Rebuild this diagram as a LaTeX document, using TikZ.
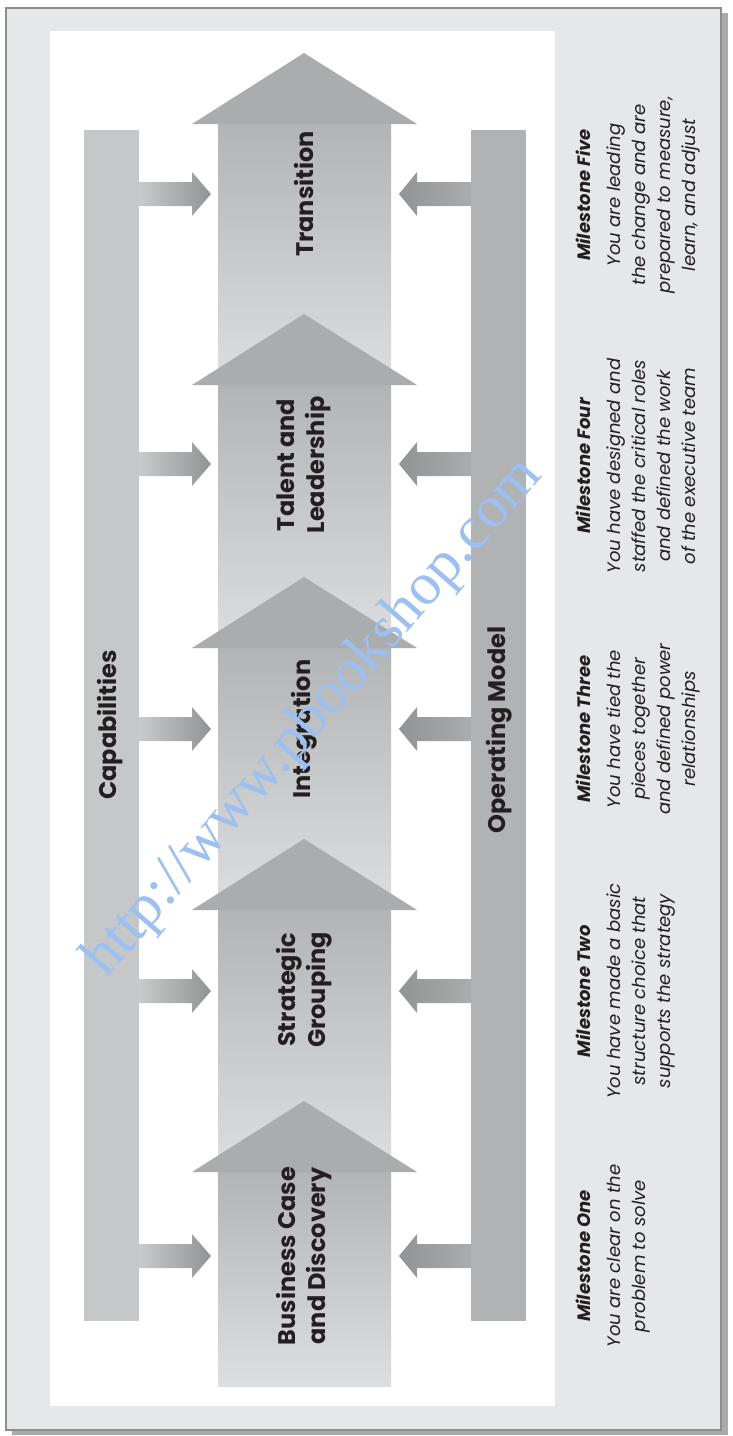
\documentclass[tikz,border=0pt]{standalone}
\usepackage{fontspec}
\setmainfont{Poppins}
\newfontfamily\wmfont{Liberation Serif}
\definecolor{framefill}{HTML}{E6E7E8}
\definecolor{frameline}{HTML}{8C8D8F}
\definecolor{shadowc}{HTML}{A9AAAC}
\definecolor{capbar}{HTML}{C6C7C9}
\definecolor{opbar}{HTML}{B1B2B4}
\definecolor{headc}{HTML}{ABACAE}
\definecolor{shafttop}{HTML}{B3B4B6}
\definecolor{shaftbot}{HTML}{DDDEE0}
\definecolor{smalldark}{HTML}{929395}
\definecolor{smalllight}{HTML}{C9CACC}
\definecolor{txt}{HTML}{231F20}
\definecolor{wmcol}{HTML}{9CC0F0}
\newcommand\BigArrow[3]{% tip y, shaft bottom y, name
  \shade[top color=shafttop, bottom color=shaftbot] (218,#1+71) rectangle (391,#2);
  \fill[headc] (192,#1+71) -- (304,#1) coordinate (#3) -- (417,#1+71) -- cycle;
}
\newcommand\SideArrows[1]{% centre y
  \shade[left color=smalllight, right color=smalldark]
    (139,#1-12) -- (192,#1-12) -- (192,#1-22) -- (211,#1) -- (192,#1+22) -- (192,#1+12) -- (139,#1+12) -- cycle;
  \shade[left color=smalldark, right color=smalllight!85!black]
    (471,#1-12) -- (417,#1-12) -- (417,#1-22) -- (399,#1) -- (417,#1+22) -- (417,#1+12) -- (471,#1+12) -- cycle;
}
\tikzset{
  lbl/.style={rotate=90, align=center, inner sep=0pt, text=txt,
    font=\fontsize{24}{30}\selectfont\bfseries},
  mstone/.style={rotate=90, anchor=north, align=center, inner sep=0pt, text=txt,
    font=\fontsize{18}{25}\selectfont\itshape},
  wmark/.style={rotate=49, inner sep=0pt, text=wmcol,
    font=\wmfont\fontsize{60}{62}\selectfont}
}
\begin{document}
\begin{tikzpicture}[x=1pt,y=-1pt]
\useasboundingbox (0,0) rectangle (733,1436);
\fill[white] (0,0) rectangle (733,1436);
% frame with shadow
\fill[shadowc] (12,13) rectangle (728,1435);
\fill[framefill, draw=frameline, line width=1.2pt] (6,8) rectangle (721,1430);
% white panel
\fill[white] (50,31) rectangle (555,1406);
% bars
\fill[capbar] (84,130) rectangle (139,1321);
\fill[opbar] (471,130) rectangle (526,1321);
\node[lbl] (cap) at (110,725) {Capabilities};
\node[lbl] (op) at (499,730) {Operating Model};
% big arrows
\BigArrow{53}{385}{a5}
\BigArrow{314}{648}{a4}
\BigArrow{577}{909}{a3}
\BigArrow{839}{1172}{a2}
\BigArrow{1101}{1386}{a1}
% side arrows
\SideArrows{194}
\SideArrows{464}
\SideArrows{729}
\SideArrows{991}
\SideArrows{1256}
% arrow labels
\node[lbl] (l5) at (304,194) {Transition};
\node[lbl] (l4) at (304,465) {Talent and\\Leadership};
\node[lbl] (l3) at (304,729) {Integration};
\node[lbl] (l2) at (304,990) {Strategic\\Grouping};
\node[lbl] (l1) at (304,1256) {Business Case\\and Discovery};
% milestones
\node[mstone] (m1) at (576,1256) {{\bfseries Milestone One}\\[5pt]You are clear on the\\problem to solve};
\node[mstone] (m2) at (576,991) {{\bfseries Milestone Two}\\[5pt]You have made a basic\\structure choice that\\supports the strategy};
\node[mstone] (m3) at (576,729) {{\bfseries Milestone Three}\\[5pt]You have tied the\\pieces together\\and defined power\\relationships};
\node[mstone] (m4) at (576,466) {{\bfseries Milestone Four}\\[5pt]You have designed and\\staffed the critical roles\\and defined the work\\of the executive team};
\node[mstone] (m5) at (576,195) {{\bfseries Milestone Five}\\[5pt]You are leading\\the change and are\\prepared to measure,\\learn, and adjust};
% watermark
\node[wmark] (wm) at (314,718) {http://www.pbookshop.com};
\end{tikzpicture}
\end{document}
